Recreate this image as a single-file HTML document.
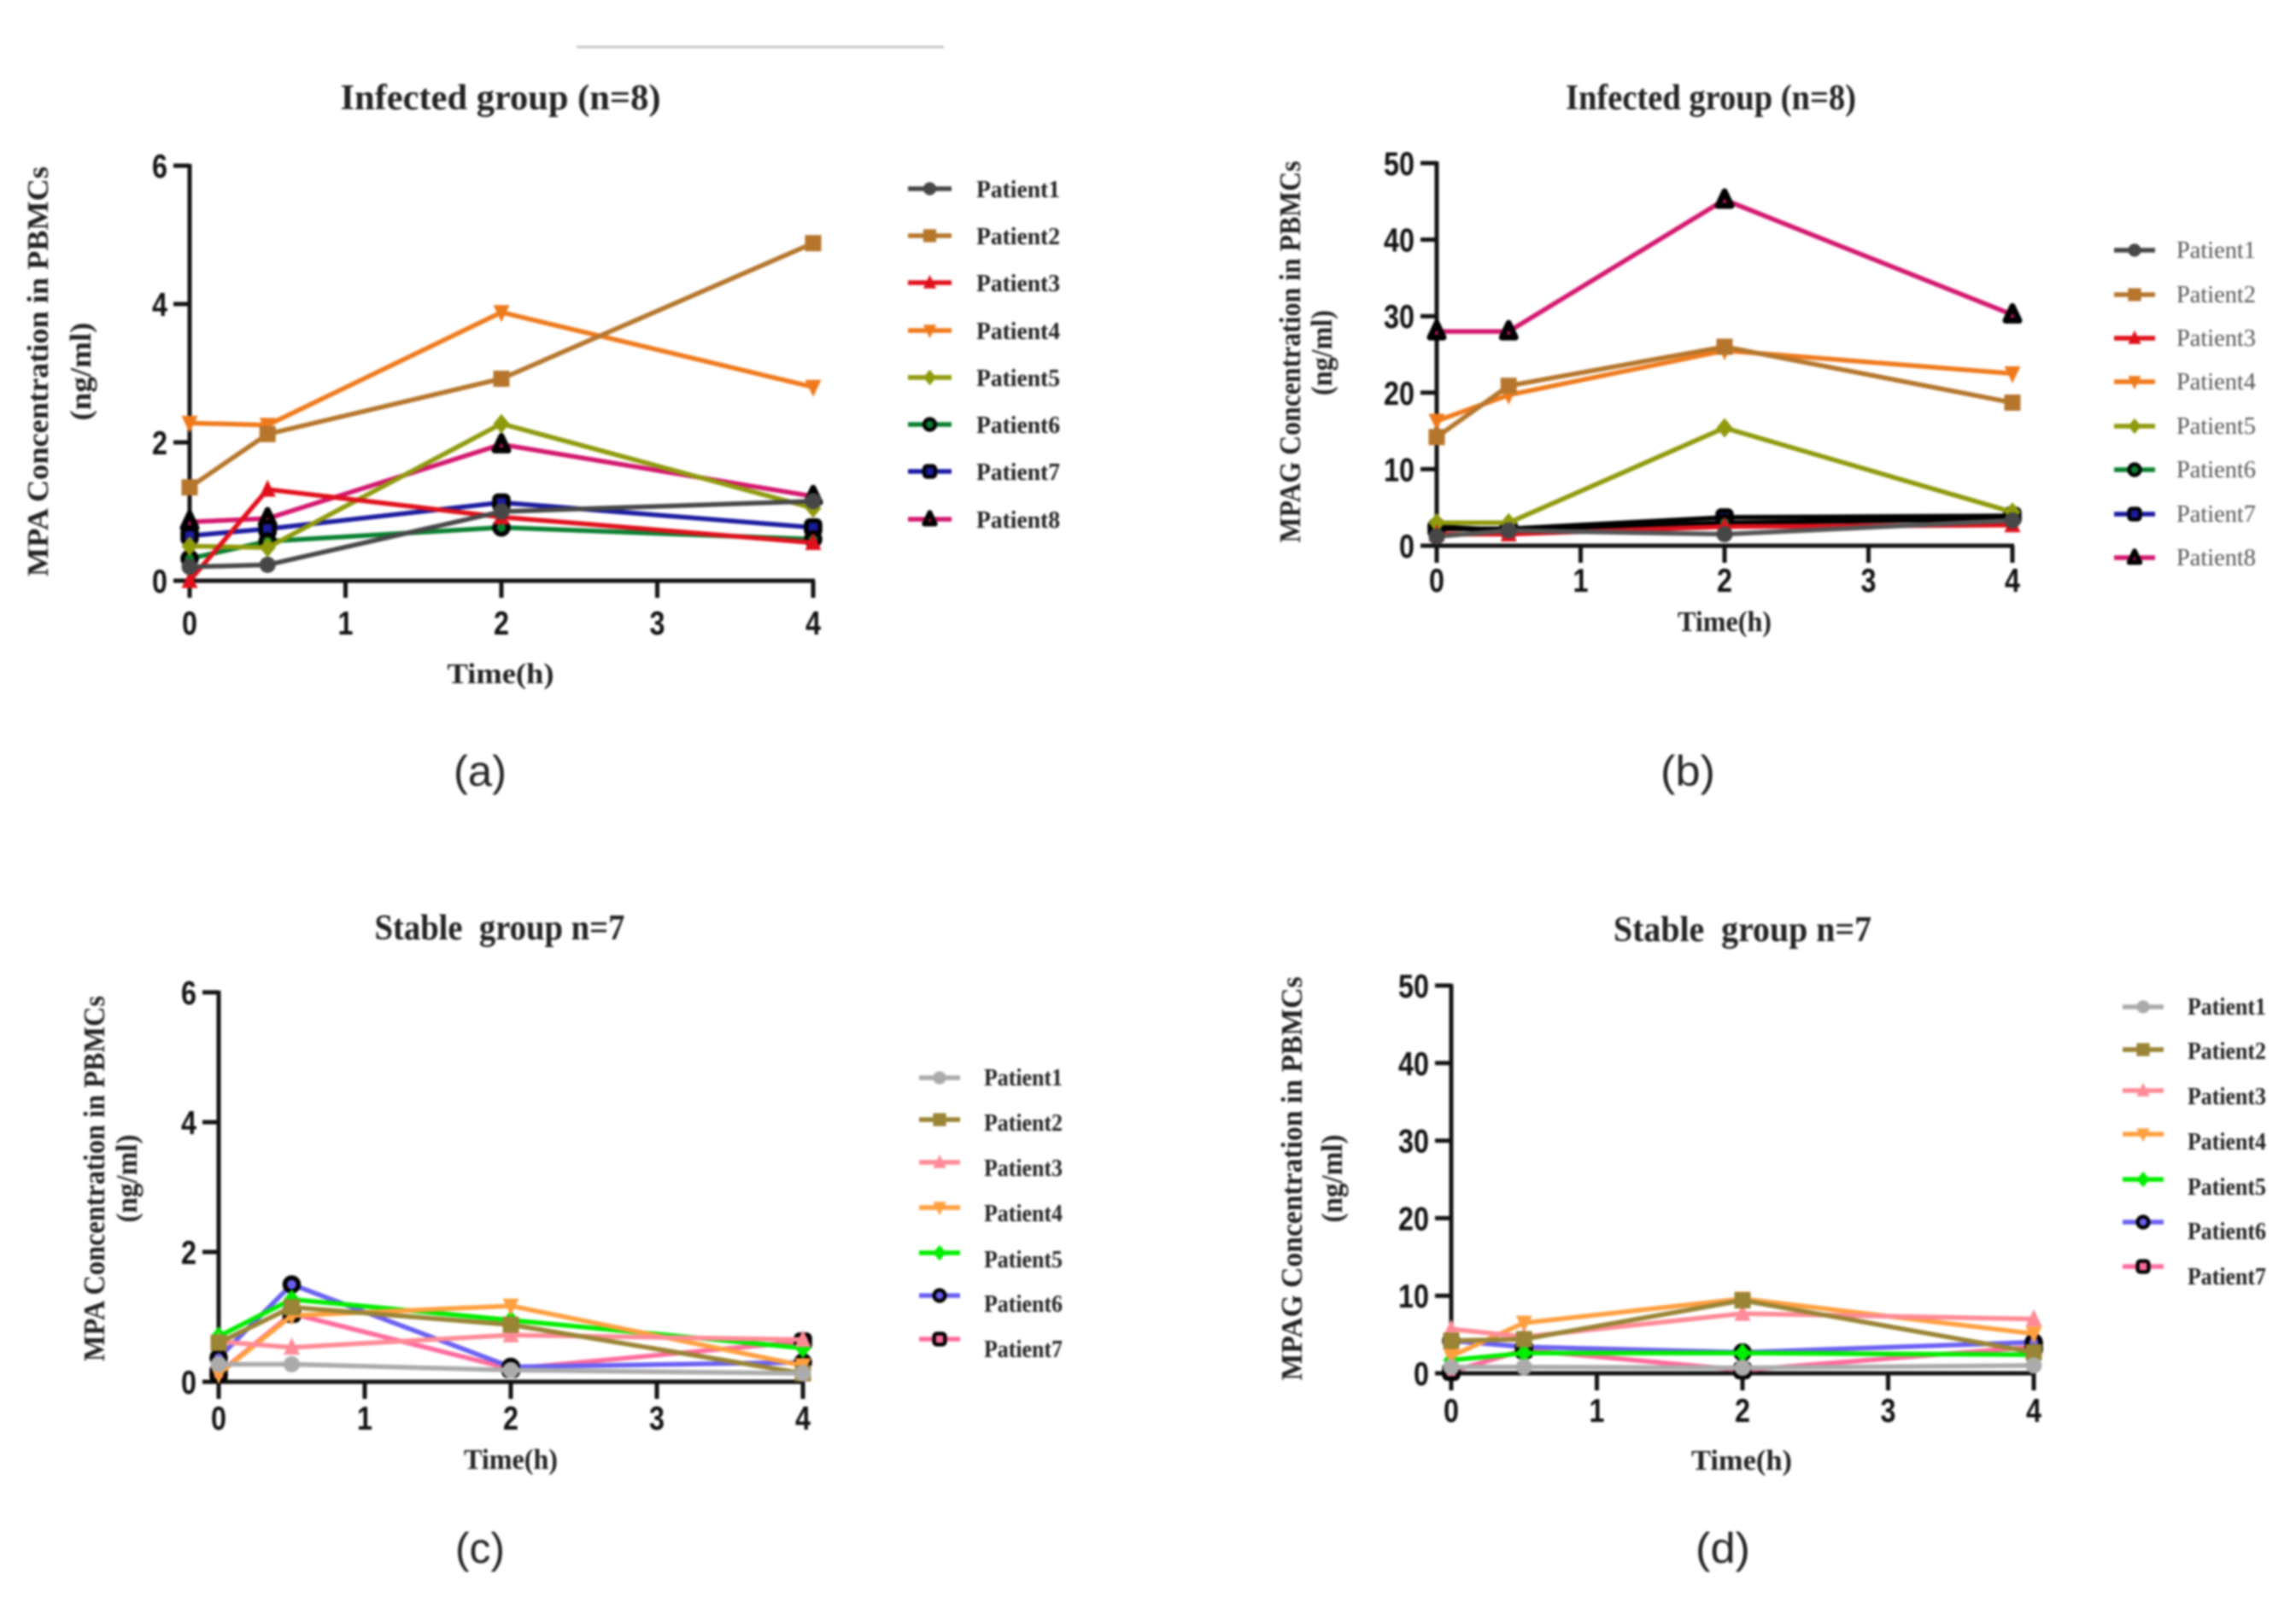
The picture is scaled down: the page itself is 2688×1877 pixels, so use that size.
<!DOCTYPE html>
<html lang="en">
<head>
<meta charset="utf-8">
<title>MPA and MPAG concentration in PBMCs</title>
<style>
html,body{margin:0;padding:0;background:#fff;}
body{width:2688px;height:1877px;overflow:hidden;}
#figure{display:block;filter:blur(1.4px);}
.serif{font-family:"Liberation Serif",serif;}
.sans{font-family:"Liberation Sans",sans-serif;}
.title{font-size:42px;font-weight:bold;fill:#222;text-anchor:middle;}
.ytitle{font-size:35px;font-weight:bold;fill:#222;text-anchor:middle;}
.xtitle{font-size:34px;font-weight:bold;fill:#222;text-anchor:middle;}
.cap{font-size:50px;fill:#222;text-anchor:middle;}
.tick{font-size:39px;font-weight:bold;fill:#111;font-family:"Liberation Sans",sans-serif;}
.legend-text{font-size:29px;font-weight:bold;fill:#222;font-family:"Liberation Serif",serif;}
.legend-text.light{font-weight:normal;fill:#555;}
</style>
</head>
<body>
<svg id="figure" xmlns="http://www.w3.org/2000/svg" width="2688" height="1877" viewBox="0 0 2688 1877">
  <rect x="0" y="0" width="2688" height="1877" fill="#fff"/>
  <line x1="675" y1="55" x2="1105" y2="55" stroke="#bdbdbd" stroke-width="2.5"/>

  <text class="title serif" x="586" y="128" textLength="375" lengthAdjust="spacingAndGlyphs">Infected group (n=8)</text>
  <text class="title serif" x="2003" y="128" textLength="340" lengthAdjust="spacingAndGlyphs">Infected group (n=8)</text>
  <text class="title serif" x="585" y="1100" textLength="293" lengthAdjust="spacingAndGlyphs" xml:space="preserve">Stable  group n=7</text>
  <text class="title serif" x="2040" y="1102" textLength="302" lengthAdjust="spacingAndGlyphs" xml:space="preserve">Stable  group n=7</text>

  <text class="ytitle serif" transform="translate(56,435) rotate(-90)" textLength="480" lengthAdjust="spacingAndGlyphs">MPA Concentration in PBMCs</text>
  <text class="ytitle serif" transform="translate(106,435) rotate(-90)" textLength="115" lengthAdjust="spacingAndGlyphs">(ng/ml)</text>
  <text class="ytitle serif" transform="translate(1522,412) rotate(-90)" textLength="447" lengthAdjust="spacingAndGlyphs">MPAG Concentration in PBMCs</text>
  <text class="ytitle serif" transform="translate(1559,413) rotate(-90)" textLength="100" lengthAdjust="spacingAndGlyphs">(ng/ml)</text>
  <text class="ytitle serif" transform="translate(122,1380) rotate(-90)" textLength="428" lengthAdjust="spacingAndGlyphs">MPA Concentration in PBMCs</text>
  <text class="ytitle serif" transform="translate(160,1380) rotate(-90)" textLength="103" lengthAdjust="spacingAndGlyphs">(ng/ml)</text>
  <text class="ytitle serif" transform="translate(1524,1380) rotate(-90)" textLength="473" lengthAdjust="spacingAndGlyphs">MPAG Concentration in PBMCs</text>
  <text class="ytitle serif" transform="translate(1571,1380) rotate(-90)" textLength="103" lengthAdjust="spacingAndGlyphs">(ng/ml)</text>

  <text class="xtitle serif" x="586" y="800" textLength="125" lengthAdjust="spacingAndGlyphs">Time(h)</text>
  <text class="xtitle serif" x="2019" y="739" textLength="110" lengthAdjust="spacingAndGlyphs">Time(h)</text>
  <text class="xtitle serif" x="598" y="1720" textLength="110" lengthAdjust="spacingAndGlyphs">Time(h)</text>
  <text class="xtitle serif" x="2039" y="1721" textLength="118" lengthAdjust="spacingAndGlyphs">Time(h)</text>

  <text class="cap sans" x="562" y="920" textLength="62" lengthAdjust="spacingAndGlyphs">(a)</text>
  <text class="cap sans" x="1976" y="920" textLength="64" lengthAdjust="spacingAndGlyphs">(b)</text>
  <text class="cap sans" x="562" y="1830" textLength="58" lengthAdjust="spacingAndGlyphs">(c)</text>
  <text class="cap sans" x="2017" y="1830" textLength="64" lengthAdjust="spacingAndGlyphs">(d)</text>

  <g id="charts"></g>
</svg>

<script>
// ---- Data ----
const timePoints = [0, 0.5, 2, 4];
const xTickLabels = [0, 1, 2, 3, 4];
const mpaTickLabels = [0, 2, 4, 6];
const mpagTickLabels = [0, 10, 20, 30, 40, 50];
const patientLabels = ['Patient1', 'Patient2', 'Patient3', 'Patient4', 'Patient5', 'Patient6', 'Patient7', 'Patient8'];

// Panel (a): infected group, MPA
const aPatient1 = [0.2, 0.23, 1.0, 1.15];
const aPatient2 = [1.35, 2.12, 2.92, 4.88];
const aPatient3 = [0.0, 1.32, 0.92, 0.55];
const aPatient4 = [2.28, 2.25, 3.88, 2.8];
const aPatient5 = [0.5, 0.48, 2.27, 1.05];
const aPatient6 = [0.32, 0.57, 0.77, 0.6];
const aPatient7 = [0.65, 0.75, 1.13, 0.77];
const aPatient8 = [0.85, 0.9, 1.97, 1.22];

// Panel (b): infected group, MPAG
const bPatient1 = [1.2, 2.0, 1.5, 3.3];
const bPatient2 = [14.2, 20.9, 26.0, 18.7];
const bPatient3 = [1.5, 1.5, 2.5, 2.7];
const bPatient4 = [16.3, 19.7, 25.5, 22.5];
const bPatient5 = [3.0, 3.0, 15.4, 4.4];
const bPatient6 = [2.5, 2.0, 3.0, 3.5];
const bPatient7 = [2.2, 2.2, 3.7, 3.9];
const bPatient8 = [28.0, 28.0, 45.2, 30.2];

// Panel (c): stable group, MPA
const cPatient1 = [0.27, 0.27, 0.18, 0.13];
const cPatient2 = [0.6, 1.15, 0.88, 0.13];
const cPatient3 = [0.62, 0.53, 0.72, 0.65];
const cPatient4 = [0.12, 1.02, 1.17, 0.25];
const cPatient5 = [0.7, 1.27, 0.95, 0.52];
const cPatient6 = [0.37, 1.5, 0.23, 0.3];
const cPatient7 = [0.13, 1.05, 0.2, 0.62];

// Panel (d): stable group, MPAG
const dPatient1 = [0.8, 0.8, 0.7, 1.0];
const dPatient2 = [4.2, 4.4, 9.4, 2.7];
const dPatient3 = [5.7, 4.7, 7.7, 7.0];
const dPatient4 = [2.2, 6.5, 9.6, 5.1];
const dPatient5 = [1.7, 2.6, 2.6, 2.4];
const dPatient6 = [4.2, 3.4, 2.7, 4.0];
const dPatient7 = [0.2, 3.0, 0.4, 3.4];

// ---- Styling ----
const markerShapes = ['circle', 'square', 'triangle', 'triangleDown', 'diamond', 'circle', 'square', 'triangle'];
const markerOutlined = [false, false, false, false, false, true, true, true];
const darkColors = ['#474747', '#b5762c', '#e0101c', '#ef7a1c', '#8f9a0c', '#0a8030', '#1c1ca0', '#d3186f'];
const brightColors = ['#ababab', '#9a8435', '#ff8b97', '#ffa040', '#00ee00', '#6a60f2', '#ff6c9c'];

const panels = [
  { id: 'a', series: [aPatient1, aPatient2, aPatient3, aPatient4, aPatient5, aPatient6, aPatient7, aPatient8],
    ticks: mpaTickLabels, yMax: 6, x0: 222, x4: 952, y0: 680, yTop: 194, tickBaseline: 743,
    colors: darkColors, lineColors: darkColors, lw: 5.5, light: false,
    legLine: [1063, 1114], legText: 1143, legTextW: 98,
    legLineY: [221, 276, 331, 387, 442, 497, 552, 608], legTextY: [222, 277, 332, 388, 443, 498, 553, 609] },
  { id: 'b', series: [bPatient1, bPatient2, bPatient3, bPatient4, bPatient5, bPatient6, bPatient7, bPatient8],
    ticks: mpagTickLabels, yMax: 50, x0: 1682, x4: 2356, y0: 639, yTop: 191, tickBaseline: 693,
    colors: darkColors, lineColors: ['#555', '#b5762c', '#e0101c', '#ef7a1c', '#8f9a0c', '#000', '#000', '#d3186f'], lw: 5.5, light: true,
    legLine: [2475, 2523], legText: 2548, legTextW: 93,
    legLineY: [293, 345, 396, 447, 499, 550, 602, 653], legTextY: [293, 345, 396, 447, 499, 550, 602, 653] },
  { id: 'c', series: [cPatient1, cPatient2, cPatient3, cPatient4, cPatient5, cPatient6, cPatient7],
    ticks: mpaTickLabels, yMax: 6, x0: 256, x4: 940, y0: 1618, yTop: 1162, tickBaseline: 1674,
    colors: brightColors, lineColors: brightColors, lw: 5.5, light: false,
    legLine: [1076, 1124], legText: 1152, legTextW: 92,
    legLineY: [1262, 1311, 1361, 1414, 1467, 1517, 1568], legTextY: [1262, 1315, 1368, 1421, 1475, 1527, 1580] },
  { id: 'd', series: [dPatient1, dPatient2, dPatient3, dPatient4, dPatient5, dPatient6, dPatient7],
    ticks: mpagTickLabels, yMax: 50, x0: 1699, x4: 2381, y0: 1608, yTop: 1154, tickBaseline: 1665,
    colors: brightColors, lineColors: brightColors, lw: 5.5, light: false,
    legLine: [2485, 2533], legText: 2561, legTextW: 92,
    legLineY: [1179, 1229, 1277, 1328, 1381, 1431, 1483], legTextY: [1179, 1231, 1284, 1337, 1390, 1442, 1495] }
];

// ---- Rendering ----
const NS = 'http://www.w3.org/2000/svg';
function make(tag, attrs, parent) {
  const el = document.createElementNS(NS, tag);
  for (const k in attrs) el.setAttribute(k, attrs[k]);
  parent.appendChild(el);
  return el;
}

function drawMarker(parent, shape, x, y, fill, outlined, name) {
  const r = outlined ? 8 : 9.5;
  const stroke = outlined ? '#000' : 'none';
  const sw = outlined ? (shape === 'triangle' ? 7 : 5.5) : 0;
  let el;
  if (shape === 'circle') {
    el = make('circle', { cx: x, cy: y, r: r, fill: fill, stroke: stroke, 'stroke-width': sw }, parent);
  } else if (shape === 'square') {
    el = make('rect', { x: x - r, y: y - r, width: 2 * r, height: 2 * r, rx: outlined ? 4 : 0, fill: fill, stroke: stroke, 'stroke-width': sw }, parent);
  } else if (shape === 'triangle') {
    const p = [[x, y - r - 2], [x + r, y + r - 1], [x - r, y + r - 1]].map(q => q.join(',')).join(' ');
    el = make('polygon', { points: p, fill: fill, stroke: stroke, 'stroke-width': sw, 'stroke-linejoin': 'round' }, parent);
  } else if (shape === 'triangleDown') {
    const p = [[x, y + r + 2], [x + r, y - r + 1], [x - r, y - r + 1]].map(q => q.join(',')).join(' ');
    el = make('polygon', { points: p, fill: fill, stroke: stroke, 'stroke-width': sw, 'stroke-linejoin': 'round' }, parent);
  } else {
    const p = [[x, y - r - 2], [x + r, y], [x, y + r + 2], [x - r, y]].map(q => q.join(',')).join(' ');
    el = make('polygon', { points: p, fill: fill, stroke: stroke, 'stroke-width': sw }, parent);
  }
  
  
  return el;
}

function drawPanel(panel) {
  const root = document.getElementById('charts');
  const g = make('g', {}, root);
  
  

  const xScale = t => panel.x0 + (panel.x4 - panel.x0) * t / 4;
  const yScale = v => panel.y0 - (panel.y0 - panel.yTop) * v / panel.yMax;

  // axes
  const axisY = make('line', { x1: panel.x0, y1: panel.yTop - 2, x2: panel.x0, y2: panel.y0, stroke: '#111', 'stroke-width': 5 }, g);
  
  
  const axisX = make('line', { x1: panel.x0 - 19, y1: panel.y0, x2: panel.x4 + 2, y2: panel.y0, stroke: '#111', 'stroke-width': 5 }, g);
  
  

  panel.ticks.forEach(v => {
    const y = yScale(v);
    const tick = make('line', { x1: panel.x0 - 19, y1: y, x2: panel.x0, y2: y, stroke: '#111', 'stroke-width': 5 }, g);
    
    
    const label = make('text', { x: panel.x0 - 26, y: y + 14, class: 'tick', 'text-anchor': 'end', textLength: String(v).length * 18, lengthAdjust: 'spacingAndGlyphs' }, g);
    label.textContent = v;
    
    
  });

  xTickLabels.forEach(v => {
    const x = xScale(v);
    const tick = make('line', { x1: x, y1: panel.y0, x2: x, y2: panel.y0 + 20, stroke: '#111', 'stroke-width': 5 }, g);
    
    
    const label = make('text', { x: x, y: panel.tickBaseline, class: 'tick', 'text-anchor': 'middle', textLength: 18, lengthAdjust: 'spacingAndGlyphs' }, g);
    label.textContent = v;
    
    
  });

  // series: last patient first, so Patient1 is painted on top
  for (let i = panel.series.length - 1; i >= 0; i--) {
    const values = panel.series[i];
    const pts = values.map((v, j) => xScale(timePoints[j]) + ',' + yScale(v)).join(' ');
    const s = make('g', {}, g);
    
    
    const line = make('polyline', { points: pts, fill: 'none', stroke: panel.lineColors[i], 'stroke-width': panel.lw, 'stroke-linejoin': 'round' }, s);
    
    
    values.forEach((v, j) => {
      drawMarker(s, markerShapes[i], xScale(timePoints[j]), yScale(v), panel.colors[i], markerOutlined[i], 'series-point');
    });
  }

  // legend
  panel.series.forEach((_, i) => {
    const entry = make('g', {}, g);
    
    
    const ly = panel.legLineY[i];
    const sw = make('line', { x1: panel.legLine[0], y1: ly, x2: panel.legLine[1], y2: ly, stroke: panel.colors[i], 'stroke-width': panel.lw }, entry);
    
    
    const mx = (panel.legLine[0] + panel.legLine[1]) / 2;
    const mk = drawMarker(entry, markerShapes[i], mx, ly, panel.colors[i], markerOutlined[i], 'legend-marker');
    mk.setAttribute('transform', 'translate(' + mx + ',' + ly + ') scale(0.8) translate(' + (-mx) + ',' + (-ly) + ')');
    const t = make('text', { x: panel.legText, y: panel.legTextY[i] + 9, class: 'legend-text' + (panel.light ? ' light' : ''), textLength: panel.legTextW, lengthAdjust: 'spacingAndGlyphs' }, entry);
    t.textContent = patientLabels[i];
    
    
  });
}

panels.forEach(drawPanel);
</script>
</body>
</html>
